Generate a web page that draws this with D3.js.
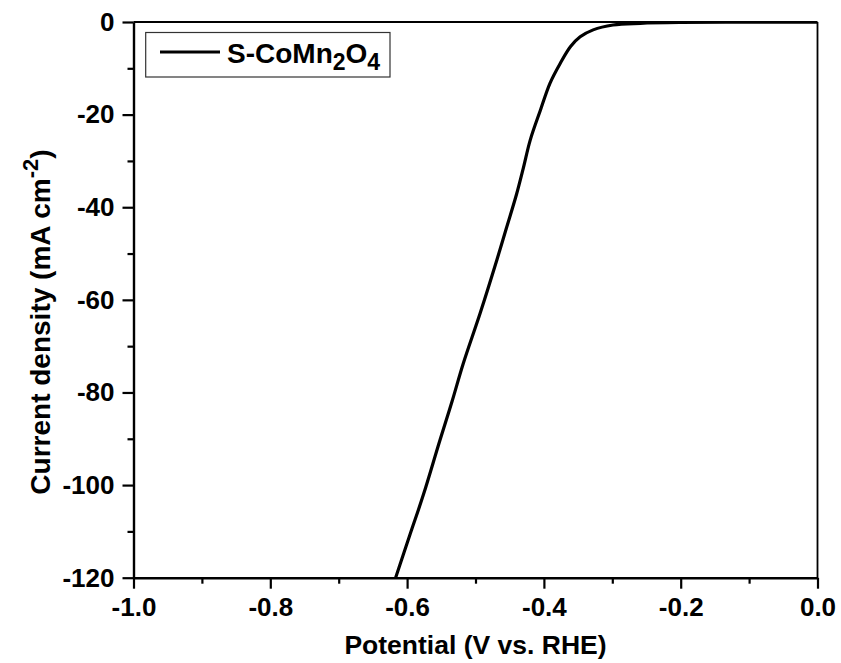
<!DOCTYPE html>
<html><head><meta charset="utf-8">
<script src="https://cdn.jsdelivr.net/npm/d3@7"></script>
<style>body{margin:0;background:#fff}svg{display:block}text{font-family:"Liberation Sans",Arial,sans-serif;font-weight:bold;fill:#000}</style>
</head><body>
<script>
const potential = [-0.617, -0.596, -0.576, -0.552, -0.534, -0.518, -0.493, -0.469, -0.455, -0.440, -0.430, -0.420, -0.405, -0.391, -0.376, -0.361, -0.347, -0.328, -0.299, -0.259, -0.20, -0.10, 0.0];
const current = [-120.1, -110.8, -102.0, -90.3, -81.8, -73.8, -62.8, -51.5, -44.6, -37.2, -31.5, -25.5, -19.0, -13.2, -8.9, -5.3, -3.2, -1.7, -0.65, -0.28, -0.10, -0.05, -0.02];
const xTicks = [-1.0, -0.8, -0.6, -0.4, -0.2, 0.0];
const xMinor = [-0.9, -0.7, -0.5, -0.3, -0.1];
const yTicks = [0, -20, -40, -60, -80, -100, -120];
const yMinor = [-10, -30, -50, -70, -90, -110];
const seriesName = "S-CoMn";

const W = 841, H = 663;
const L = 133.5, R = 817.5, T = 22, B = 577.7;
const svg = d3.select("body").append("svg").attr("width", W).attr("height", H);
const x = d3.scaleLinear().domain([-1, 0]).range([L, R]);
const y = d3.scaleLinear().domain([-120, 0]).range([B, T]);

svg.append("defs").append("clipPath").attr("id","clip").append("rect")
  .attr("x", L).attr("y", T).attr("width", R-L).attr("height", B-T);

// frame top/right
svg.append("line").attr("x1", L).attr("x2", R).attr("y1", T).attr("y2", T).attr("stroke","#000").attr("stroke-width",1.8);
svg.append("line").attr("x1", R).attr("x2", R).attr("y1", T).attr("y2", B).attr("stroke","#000").attr("stroke-width",1.8);

const fmtX = d3.format(".1f");
const gx = svg.append("g").attr("transform", `translate(0,${B})`)
  .call(d3.axisBottom(x).tickValues(xTicks).tickFormat(d => fmtX(d).replace("−","-")).tickSize(11).tickSizeOuter(0).tickPadding(9));
const gxm = svg.append("g").attr("transform", `translate(0,${B})`)
  .call(d3.axisBottom(x).tickValues(xMinor).tickFormat("").tickSize(6).tickSizeOuter(0));
const gy = svg.append("g").attr("transform", `translate(${L},0)`)
  .call(d3.axisLeft(y).tickValues(yTicks).tickFormat(d => String(d)).tickSize(11).tickSizeOuter(0).tickPadding(8));
const gym = svg.append("g").attr("transform", `translate(${L},0)`)
  .call(d3.axisLeft(y).tickValues(yMinor).tickFormat("").tickSize(6).tickSizeOuter(0));
[gx, gxm, gy, gym].forEach(g => {
  g.selectAll(".domain").attr("stroke","#000").attr("stroke-width",2.4);
  g.selectAll(".tick line").attr("stroke","#000").attr("stroke-width",2.2);
  g.selectAll(".tick text").style("font-size","26px").attr("fill","#000");
});
gym.select(".domain").remove(); gxm.select(".domain").remove();

// curve
const line = d3.line().x((d,i)=>x(potential[i])).y((d,i)=>y(current[i])).curve(d3.curveCatmullRom.alpha(0.5));
svg.append("path").datum(current).attr("d", line).attr("clip-path","url(#clip)")
  .attr("fill","none").attr("stroke","#000").attr("stroke-width",3.2).attr("stroke-linejoin","round");

// axis titles
svg.append("text").attr("x", (L+R)/2).attr("y", 654).attr("text-anchor","middle").style("font-size","26.5px")
  .text("Potential (V vs. RHE)");
const yt = svg.append("text").attr("transform", `translate(50,322) rotate(-90)`).attr("text-anchor","middle").style("font-size","28px");
yt.append("tspan").text("Current density (mA cm");
yt.append("tspan").attr("dy",-12).style("font-size","22px").text("-2");
yt.append("tspan").attr("dy",12).text(")");

// legend
svg.append("rect").attr("x",145.7).attr("y",32.5).attr("width",244.3).attr("height",44.5)
  .attr("fill","#fff").attr("stroke","#333").attr("stroke-width",1.2);
svg.append("line").attr("x1",160).attr("x2",220).attr("y1",52).attr("y2",52).attr("stroke","#000").attr("stroke-width",3.2);
const lt = svg.append("text").attr("x",227).attr("y",63).style("font-size","28px");
lt.append("tspan").text(seriesName);
lt.append("tspan").attr("dy",7).style("font-size","23px").text("2");
lt.append("tspan").attr("dy",-7).text("O");
lt.append("tspan").attr("dy",7).style("font-size","23px").text("4");
</script>
</body></html>
